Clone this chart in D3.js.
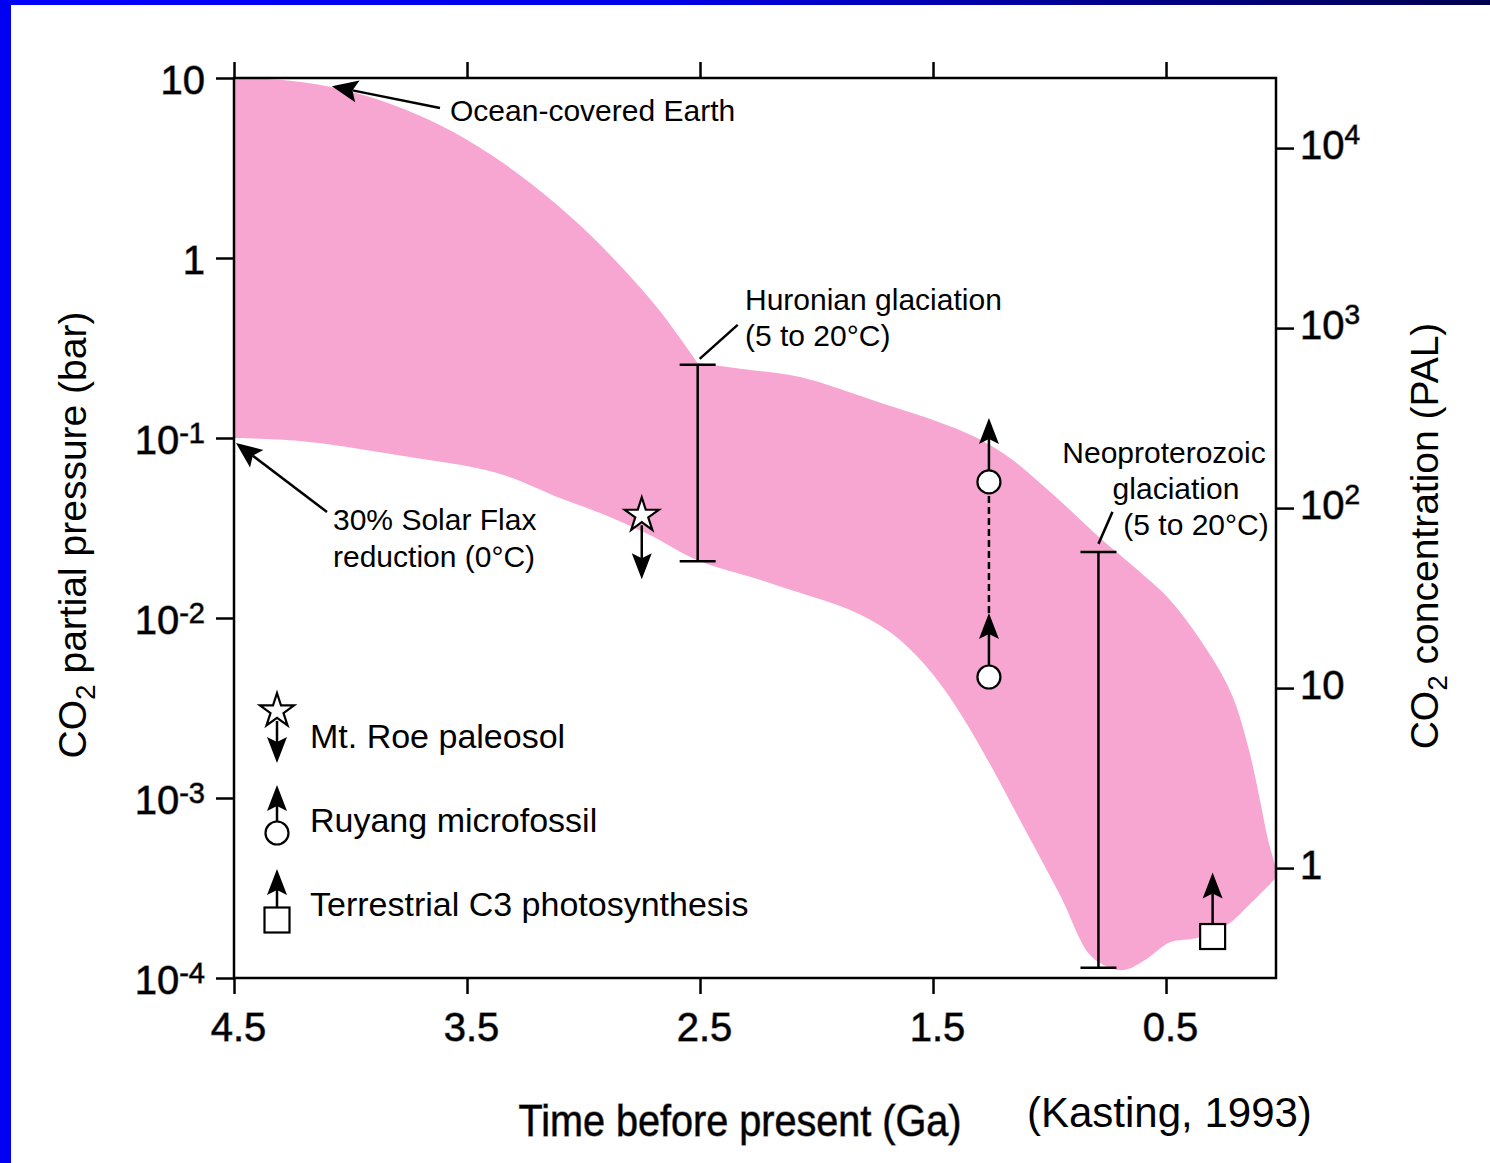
<!DOCTYPE html>
<html>
<head>
<meta charset="utf-8">
<script src="https://cdn.jsdelivr.net/npm/d3@7"></script>
<style>
  html, body { margin: 0; padding: 0; background: #fff; }
  svg { display: block; }
  text { font-family: "Liberation Sans", Arial, Helvetica, sans-serif; fill: #000; }
</style>
</head>
<body>
<svg id="chart" width="1490" height="1163"></svg>
<script>
// ---- axis ticks -------------------------------------------------------
const ageTicks = [4.5, 3.5, 2.5, 1.5, 0.5];
const barTicks = [10, 1, 0.1, 0.01, 0.001, 0.0001];
const barTickLabels = [["10", ""], ["1", ""], ["10", "-1"], ["10", "-2"], ["10", "-3"], ["10", "-4"]];
const palTicks = [1, 10, 100, 1000, 10000];
const palTickLabels = [["1", ""], ["10", ""], ["10", "2"], ["10", "3"], ["10", "4"]];
const barPerPAL = 4.08e-4;          // 1 PAL expressed in bar

// ---- envelope of allowed pCO2 (age in Ga, pressure in bar) ------------
const upperEarly = [
  [4.5, 10], [4.303, 9.78], [4.088, 8.93], [3.873, 7.53], [3.659, 5.82],
  [3.444, 4.1], [3.23, 2.62], [3.015, 1.52], [2.843, 0.908], [2.672, 0.507],
  [2.51, 0.26]
];
const upperLate = [
  [2.51, 0.26], [2.44, 0.254], [2.285, 0.239], [2.07, 0.218], [1.72, 0.156],
  [1.5, 0.126], [1.31, 0.1], [1.17, 0.0774], [1.041, 0.0562], [0.912, 0.0398],
  [0.783, 0.0278], [0.633, 0.019], [0.483, 0.0126], [0.324, 0.00664],
  [0.217, 0.00374], [0.144, 0.00185], [0.097, 0.000975], [0.062, 0.000585],
  [0.028, 0.000408]
];
const lowerEdge = [
  [4.5, 0.1], [4.217, 0.0962], [3.8, 0.0805], [3.371, 0.0639], [3.101, 0.0464],
  [2.929, 0.0383], [2.715, 0.0289], [2.513, 0.021], [2.243, 0.0163], [2.071, 0.0138],
  [1.856, 0.01107], [1.685, 0.00836], [1.534, 0.00548], [1.406, 0.00329],
  [1.277, 0.00173], [1.127, 0.000755], [0.955, 0.000289], [0.826, 0.000134],
  [0.74, 0.000114], [0.676, 0.000111], [0.59, 0.000126], [0.483, 0.000158],
  [0.367, 0.000167], [0.238, 0.000197], [0.131, 0.000264], [0.028, 0.00036]
];

// ---- proxy constraints and glaciation ranges --------------------------
const paleosolLimits = [{ age: 2.75, bar: 0.0372 }];
const microfossilLimits = [{ age: 1.26, bar: 0.057 }, { age: 1.26, bar: 0.0047 }];
const c3Limits = [{ age: 0.3, bar: 1.7e-4 }];
const glaciations = [
  { name: "Huronian", age: 2.51, lo: 0.0207, hi: 0.255 },
  { name: "Neoproterozoic", age: 0.79, lo: 1.14e-4, hi: 0.0233 }
];

// ---- layout -----------------------------------------------------------
const plot = { left: 234, right: 1276, top: 78, bottom: 978 };
const PINK = "#f7a6d2";
const LW = 2.5;

const svg = d3.select("#chart");

// slide frame: blue strip on the left, gradient strip along the top
const defs = svg.append("defs");
const grad = defs.append("linearGradient").attr("id", "topStrip")
  .attr("x1", "0%").attr("x2", "100%").attr("y1", "0%").attr("y2", "0%");
[[0, "#0000ff"], [0.45, "#0000e8"], [0.75, "#00008c"], [1, "#000050"]]
  .forEach(([o, c]) => grad.append("stop").attr("offset", o).attr("stop-color", c));
svg.append("rect").attr("x", 0).attr("y", 0).attr("width", 1490).attr("height", 5).attr("fill", "url(#topStrip)");
svg.append("rect").attr("x", 0).attr("y", 0).attr("width", 11).attr("height", 1163).attr("fill", "#0000f5");

const x = d3.scaleLinear().domain([4.5, 0.028]).range([plot.left, plot.right]);
const y = d3.scaleLog().domain([1e-4, 10]).range([plot.bottom, plot.top]);
const yPal = d3.scaleLog().domain([1e-4 / barPerPAL, 10 / barPerPAL]).range([plot.bottom, plot.top]);

// ---- shaded envelope --------------------------------------------------
const edge = d3.line().x(d => x(d[0])).y(d => y(d[1])).curve(d3.curveCatmullRom.alpha(0.5));
const bandPath = edge(upperEarly)
  + edge(upperLate).replace(/^M/, "L")
  + edge(lowerEdge.slice().reverse()).replace(/^M/, "L")
  + "Z";
svg.append("path").attr("d", bandPath).attr("fill", PINK).attr("stroke", "none");

// ---- axes -------------------------------------------------------------
function styleAxis(g) {
  g.select(".domain").remove();
  g.selectAll(".tick line").attr("stroke", "#000").attr("stroke-width", LW);
  g.selectAll(".tick text").attr("font-family", null)
    .style("paint-order", "stroke").attr("stroke", "rgba(0,0,0,0.45)").attr("stroke-width", 1.3);
}

svg.append("g").attr("transform", `translate(0,${plot.bottom})`)
  .call(d3.axisBottom(x).tickValues(ageTicks).tickSize(16).tickPadding(19).tickFormat(d3.format(".1f")))
  .call(styleAxis)
  .call(g => g.selectAll(".tick text").attr("font-size", 40).attr("dx", 4));

svg.append("g").attr("transform", `translate(0,${plot.top})`)
  .call(d3.axisTop(x).tickValues(ageTicks).tickSize(16).tickFormat(""))
  .call(styleAxis);

function powerLabels(labels, supSize, supDy) {
  return g => g.selectAll(".tick text").each(function (d, i) {
    const t = d3.select(this).text(null);
    const [base, sup] = labels[i];
    t.append("tspan").text(base);
    if (sup) t.append("tspan").attr("font-size", supSize).attr("dy", supDy).text(sup);
  });
}

svg.append("g").attr("transform", `translate(${plot.left},0)`)
  .call(d3.axisLeft(y).tickValues(barTicks).tickSize(18).tickPadding(11))
  .call(styleAxis)
  .call(g => g.selectAll(".tick text").attr("font-size", 40).attr("dy", "0.38em"))
  .call(powerLabels(barTickLabels, 29, -11));

svg.append("g").attr("transform", `translate(${plot.right},0)`)
  .call(d3.axisRight(yPal).tickValues(palTicks).tickSize(18).tickPadding(6))
  .call(styleAxis)
  .call(g => g.selectAll(".tick text").attr("font-size", 40).attr("dy", "0.25em"))
  .call(powerLabels(palTickLabels, 28, -15));

// plot frame
svg.append("rect")
  .attr("x", plot.left).attr("y", plot.top)
  .attr("width", plot.right - plot.left).attr("height", plot.bottom - plot.top)
  .attr("fill", "none").attr("stroke", "#000").attr("stroke-width", LW);

// ---- axis titles ------------------------------------------------------
svg.append("text")
  .attr("transform", "translate(740,1136) scale(0.9,1)")
  .attr("text-anchor", "middle").attr("font-size", 44)
  .style("paint-order", "stroke").attr("stroke", "rgba(0,0,0,0.45)").attr("stroke-width", 1.3)
  .text("Time before present (Ga)");

svg.append("text").attr("x", 1027).attr("y", 1127).attr("font-size", 42).text("(Kasting, 1993)");

const leftTitle = svg.append("text")
  .attr("transform", "translate(86,535) rotate(-90)")
  .attr("text-anchor", "middle").attr("font-size", 39);
leftTitle.append("tspan").text("CO");
leftTitle.append("tspan").attr("font-size", 28).attr("dy", 9).text("2");
leftTitle.append("tspan").attr("dy", -9).text(" partial pressure (bar)");

const rightTitle = svg.append("text")
  .attr("transform", "translate(1438,536) rotate(-90)")
  .attr("text-anchor", "middle").attr("font-size", 39);
rightTitle.append("tspan").text("CO");
rightTitle.append("tspan").attr("font-size", 28).attr("dy", 9).text("2");
rightTitle.append("tspan").attr("dy", -9).text(" concentration (PAL)");

// ---- helpers for arrows and markers ----------------------------------
function arrow(g, x1, y1, x2, y2, len = 26, half = 10, notch = 5) {
  const dx = x2 - x1, dy = y2 - y1, L = Math.hypot(dx, dy);
  const ux = dx / L, uy = dy / L, px = -uy, py = ux;
  const bx = x2 - ux * len, by = y2 - uy * len;
  const nx = x2 - ux * (len - notch), ny = y2 - uy * (len - notch);
  g.append("line").attr("x1", x1).attr("y1", y1).attr("x2", nx).attr("y2", ny)
    .attr("stroke", "#000").attr("stroke-width", LW);
  g.append("path")
    .attr("d", `M${x2},${y2}L${bx + px * half},${by + py * half}L${nx},${ny}L${bx - px * half},${by - py * half}Z`)
    .attr("fill", "#000");
}
const starPath = d3.symbol(d3.symbolStar, 360)();
const R_CIRCLE = 11.5, SQ = 25, ARROW_LEN = 64;

function star(g, cx, cy) {
  g.append("path").attr("d", starPath).attr("transform", `translate(${cx},${cy})`)
    .attr("fill", "#fff").attr("stroke", "#000").attr("stroke-width", 2.2).attr("stroke-linejoin", "miter");
}
function circle(g, cx, cy) {
  g.append("circle").attr("cx", cx).attr("cy", cy).attr("r", R_CIRCLE)
    .attr("fill", "#fff").attr("stroke", "#000").attr("stroke-width", 2.2);
}
function square(g, cx, cy) {
  g.append("rect").attr("x", cx - SQ / 2).attr("y", cy - SQ / 2).attr("width", SQ).attr("height", SQ)
    .attr("fill", "#fff").attr("stroke", "#000").attr("stroke-width", 2.2);
}

const marks = svg.append("g");

// glaciation ranges
glaciations.forEach(d => {
  const cx = x(d.age);
  marks.append("line").attr("x1", cx).attr("x2", cx).attr("y1", y(d.hi)).attr("y2", y(d.lo))
    .attr("stroke", "#000").attr("stroke-width", LW);
  [d.hi, d.lo].forEach(v => marks.append("line")
    .attr("x1", cx - 18).attr("x2", cx + 18).attr("y1", y(v)).attr("y2", y(v))
    .attr("stroke", "#000").attr("stroke-width", LW));
});

// Mt. Roe paleosol: upper limit
paleosolLimits.forEach(d => {
  const cx = x(d.age), cy = y(d.bar);
  arrow(marks, cx, cy + 10, cx, cy + ARROW_LEN);
  star(marks, cx, cy);
});

// Ruyang microfossil: lower limits joined by a dashed segment
{
  const cx = x(microfossilLimits[0].age);
  const yHi = y(microfossilLimits[0].bar), yLo = y(microfossilLimits[1].bar);
  marks.append("line").attr("x1", cx).attr("x2", cx)
    .attr("y1", yLo - ARROW_LEN).attr("y2", yHi + R_CIRCLE)
    .attr("stroke", "#000").attr("stroke-width", LW).attr("stroke-dasharray", "7,4");
  microfossilLimits.forEach(d => {
    const cy = y(d.bar);
    arrow(marks, cx, cy - R_CIRCLE, cx, cy - ARROW_LEN);
    circle(marks, cx, cy);
  });
}

// terrestrial C3 photosynthesis: lower limit
c3Limits.forEach(d => {
  const cx = x(d.age), cy = y(d.bar);
  arrow(marks, cx, cy - SQ / 2, cx, cy - ARROW_LEN);
  square(marks, cx, cy);
});

// ---- annotations ------------------------------------------------------
const ann = svg.append("g").attr("font-size", 30);

arrow(ann, 440, 108, x(4.08), y(9.0), 26, 11, 5);
ann.append("text").attr("x", 450).attr("y", 121).text("Ocean-covered Earth");

arrow(ann, 327, 512, x(lowerEdge[0][0]) + 2, y(lowerEdge[0][1]) + 5, 26, 11, 5);
ann.append("text").attr("x", 333).attr("y", 530).text("30% Solar Flax");
ann.append("text").attr("x", 333).attr("y", 567).text("reduction (0°C)");

{
  const hx = x(glaciations[0].age), hy = y(glaciations[0].hi);
  ann.append("line").attr("x1", hx + 2).attr("y1", hy - 6).attr("x2", hx + 40).attr("y2", hy - 40)
    .attr("stroke", "#000").attr("stroke-width", LW);
  ann.append("text").attr("x", 745).attr("y", 310).text("Huronian glaciation");
  ann.append("text").attr("x", 745).attr("y", 346).text("(5 to 20°C)");

  const nx = x(glaciations[1].age), ny = y(glaciations[1].hi);
  ann.append("line").attr("x1", nx).attr("y1", ny - 8).attr("x2", nx + 14).attr("y2", ny - 40)
    .attr("stroke", "#000").attr("stroke-width", LW);
  ann.append("text").attr("x", 1164).attr("y", 463).attr("text-anchor", "middle").text("Neoproterozoic");
  ann.append("text").attr("x", 1176).attr("y", 499).attr("text-anchor", "middle").text("glaciation");
  ann.append("text").attr("x", 1196).attr("y", 535).attr("text-anchor", "middle").text("(5 to 20°C)");
}

// ---- legend -----------------------------------------------------------
const legend = svg.append("g").attr("font-size", 34);
const LX = 277;
star(legend, LX, 711);
arrow(legend, LX, 721, LX, 763);
legend.append("text").attr("x", 310).attr("y", 748).text("Mt. Roe paleosol");

circle(legend, LX, 833);
arrow(legend, LX, 833 - R_CIRCLE, LX, 785);
legend.append("text").attr("x", 310).attr("y", 832).text("Ruyang microfossil");

square(legend, LX, 920);
arrow(legend, LX, 920 - SQ / 2, LX, 869);
legend.append("text").attr("x", 310).attr("y", 916).text("Terrestrial C3 photosynthesis");
</script>
</body>
</html>
